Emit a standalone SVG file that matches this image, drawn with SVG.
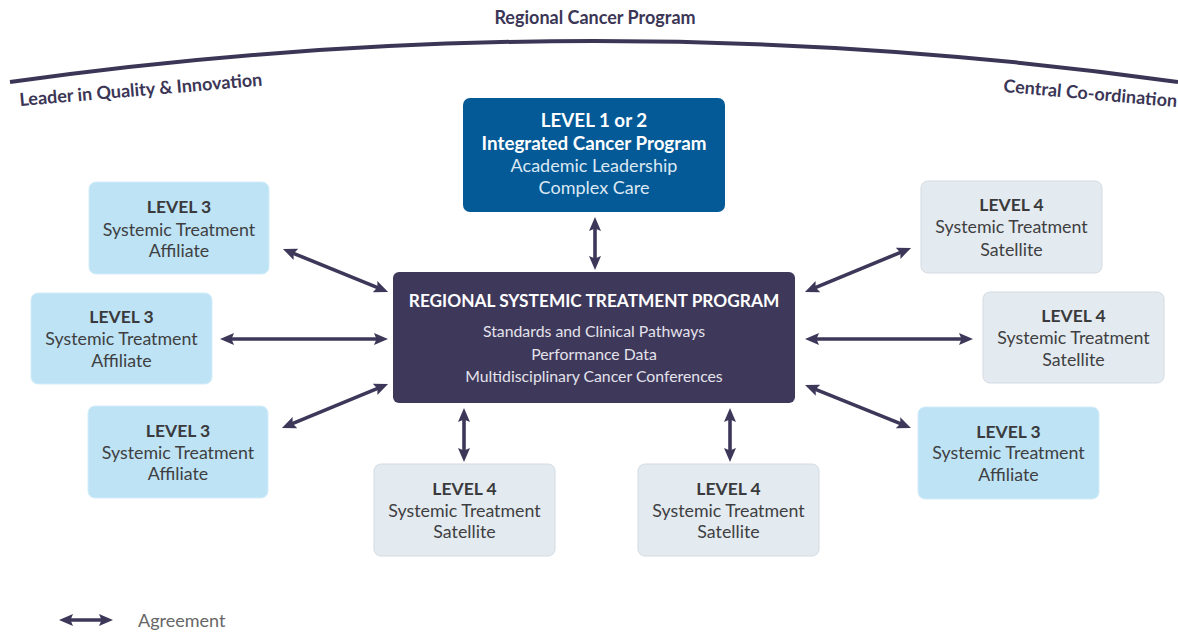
<svg xmlns="http://www.w3.org/2000/svg" width="1178" height="633" viewBox="0 0 1178 633">
  <style>
    text { font-family: Lato, "Open Sans", "Liberation Sans", sans-serif; text-anchor: middle; }
    .hdr { font-size: 18px; font-weight: 700; fill: #3b3656; }
    .lvl { font-size: 17.5px; font-weight: 700; fill: #3a3a3c; }
    .sub { font-size: 17.8px; fill: #3f3f42; }
    .l3 { fill: #bde3f5; stroke: #d3edf9; stroke-width: 1; }
    .l4 { fill: #e3eaf0; stroke: #d3dbe2; stroke-width: 1; }
    .conn { stroke: #3d3759; stroke-width: 3.6; fill: none; marker-start: url(#head); marker-end: url(#head); }
  </style>
  <defs>
    <marker id="head" markerUnits="userSpaceOnUse" markerWidth="15" markerHeight="13" refX="8" refY="6.5" orient="auto-start-reverse" viewBox="0 0 15 13">
      <path d="M0,0.5 L14,6.5 L0,12.5 L2.5,6.5 Z" fill="#3d3759"/>
    </marker>
  </defs>

  <rect width="1178" height="633" fill="#ffffff"/>

  <!-- overarching program banner -->
  <g id="regional-cancer-program">
    <path d="M10,82 Q594,0 1178,82" fill="none" stroke="#3b3656" stroke-width="4"/>
    <text class="hdr" x="595" y="24">Regional Cancer Program</text>
    <text class="hdr" x="20" y="106" style="text-anchor:start" transform="rotate(-4.8 20 106)">Leader in Quality &amp; Innovation</text>
    <text class="hdr" x="1003" y="92" style="text-anchor:start" transform="rotate(5 1003 92)">Central Co-ordination</text>
  </g>

  <!-- connectors -->
  <g id="connectors">
    <line class="conn" x1="595" y1="223" x2="595" y2="264"/>
    <line class="conn" x1="288.5" y1="251.3" x2="382.5" y2="289.7"/>
    <line class="conn" x1="226" y1="339" x2="382" y2="339"/>
    <line class="conn" x1="287.5" y1="425.7" x2="382.5" y2="386.3"/>
    <line class="conn" x1="810.5" y1="289.7" x2="905.5" y2="250.3"/>
    <line class="conn" x1="811" y1="339" x2="967" y2="339"/>
    <line class="conn" x1="810.6" y1="387.3" x2="905.4" y2="425.7"/>
    <line class="conn" x1="464" y1="414" x2="464" y2="456"/>
    <line class="conn" x1="730" y1="414" x2="730" y2="456"/>
  </g>

  <!-- level 1 / 2 -->
  <g id="integrated-cancer-program">
    <rect x="463" y="98" width="262" height="114" rx="7" fill="#035a97"/>
    <text x="594" y="127" style="font-size:18.8px;font-weight:700;fill:#ffffff">LEVEL 1 or 2</text>
    <text x="594" y="150" style="font-size:18.8px;font-weight:700;fill:#ffffff">Integrated Cancer Program</text>
    <text x="594" y="172" style="font-size:18px;fill:#dce8f3">Academic Leadership</text>
    <text x="594" y="194" style="font-size:18px;fill:#dce8f3">Complex Care</text>
  </g>

  <!-- regional program hub -->
  <g id="regional-systemic-treatment-program">
    <rect x="393" y="272" width="402" height="131" rx="6" fill="#3e385a"/>
    <text x="594" y="307" style="font-size:17.3px;font-weight:700;fill:#ffffff">REGIONAL SYSTEMIC TREATMENT PROGRAM</text>
    <text x="594" y="337" style="font-size:15.8px;fill:#e4e3ec">Standards and Clinical Pathways</text>
    <text x="594" y="360" style="font-size:15.8px;fill:#e4e3ec">Performance Data</text>
    <text x="594" y="382" style="font-size:15.8px;fill:#e4e3ec">Multidisciplinary Cancer Conferences</text>
  </g>

  <!-- level 3 affiliates -->
  <g id="affiliate-left-top">
    <rect class="l3" x="89" y="182" width="180" height="92" rx="7"/>
    <text class="lvl" x="179" y="213">LEVEL 3</text>
    <text class="sub" x="179" y="236">Systemic Treatment</text>
    <text class="sub" x="179" y="257">Affiliate</text>
  </g>
  <g id="affiliate-left-middle">
    <rect class="l3" x="31" y="293" width="181" height="91" rx="7"/>
    <text class="lvl" x="121.5" y="323">LEVEL 3</text>
    <text class="sub" x="121.5" y="345">Systemic Treatment</text>
    <text class="sub" x="121.5" y="367">Affiliate</text>
  </g>
  <g id="affiliate-left-bottom">
    <rect class="l3" x="88" y="406" width="180" height="92" rx="7"/>
    <text class="lvl" x="178" y="437">LEVEL 3</text>
    <text class="sub" x="178" y="459">Systemic Treatment</text>
    <text class="sub" x="178" y="480">Affiliate</text>
  </g>
  <g id="affiliate-right-bottom">
    <rect class="l3" x="918" y="407" width="181" height="92" rx="7"/>
    <text class="lvl" x="1008.5" y="438">LEVEL 3</text>
    <text class="sub" x="1008.5" y="459">Systemic Treatment</text>
    <text class="sub" x="1008.5" y="481">Affiliate</text>
  </g>

  <!-- level 4 satellites -->
  <g id="satellite-right-top">
    <rect class="l4" x="921" y="181" width="181" height="92" rx="7"/>
    <text class="lvl" x="1011.5" y="211">LEVEL 4</text>
    <text class="sub" x="1011.5" y="233">Systemic Treatment</text>
    <text class="sub" x="1011.5" y="256">Satellite</text>
  </g>
  <g id="satellite-right-middle">
    <rect class="l4" x="983" y="292" width="181" height="91" rx="7"/>
    <text class="lvl" x="1073.5" y="322">LEVEL 4</text>
    <text class="sub" x="1073.5" y="344">Systemic Treatment</text>
    <text class="sub" x="1073.5" y="366">Satellite</text>
  </g>
  <g id="satellite-bottom-left">
    <rect class="l4" x="374" y="464" width="181" height="92" rx="7"/>
    <text class="lvl" x="464.5" y="495">LEVEL 4</text>
    <text class="sub" x="464.5" y="517">Systemic Treatment</text>
    <text class="sub" x="464.5" y="538">Satellite</text>
  </g>
  <g id="satellite-bottom-right">
    <rect class="l4" x="638" y="464" width="181" height="92" rx="7"/>
    <text class="lvl" x="728.5" y="495">LEVEL 4</text>
    <text class="sub" x="728.5" y="517">Systemic Treatment</text>
    <text class="sub" x="728.5" y="538">Satellite</text>
  </g>

  <!-- legend -->
  <g id="legend">
    <line class="conn" x1="65" y1="620" x2="107" y2="620"/>
    <text x="138" y="627" style="text-anchor:start;font-size:18px;fill:#666666">Agreement</text>
  </g>
</svg>
